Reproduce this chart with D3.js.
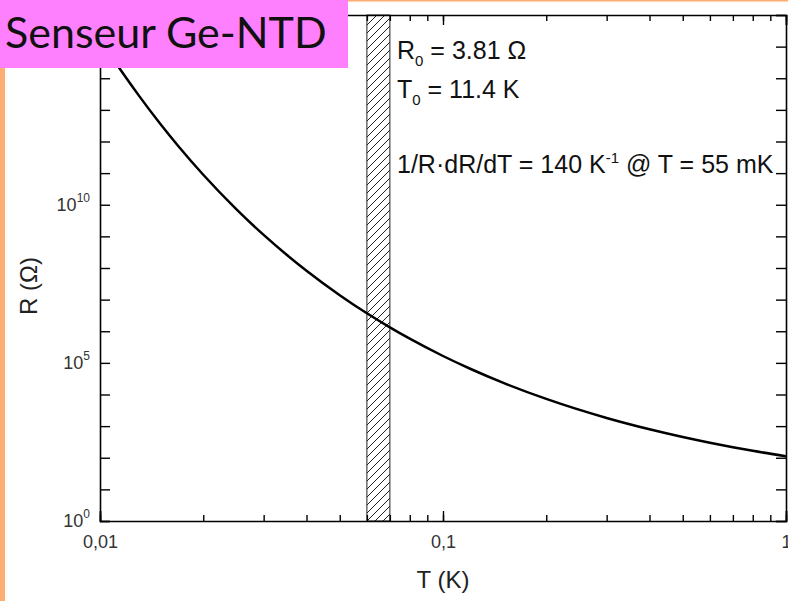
<!DOCTYPE html>
<html>
<head>
<meta charset="utf-8">
<script src="https://cdn.jsdelivr.net/npm/d3@7"></script>
<style>
  body { margin: 0; background: #fff; }
  svg { display: block; font-family: "Liberation Sans", Arial, sans-serif; }
</style>
</head>
<body>
<div id="chart"></div>
<script>
// curve: T (K) -> R (ohm)
const temps = [0.01, 0.011, 0.012, 0.013, 0.015, 0.017, 0.02, 0.025, 0.03, 0.035, 0.04, 0.05,
               0.06, 0.07, 0.08, 0.1, 0.12, 0.15, 0.2, 0.3, 0.4, 0.5, 0.6, 0.7, 0.8, 1.0];
const resist = [1.76e15, 3.65e14, 9.27e13, 2.77e13, 3.58e12, 6.73e11, 8.9e10, 7.16e9, 1.11e9, 2.62e8, 8.18e7, 1.38e7,
                3.69e6, 1.33e6, 5.82e5, 1.65e5, 6.52e4, 2.33e4, 7.24e3, 1.81e3, 794, 452, 298, 216, 166, 111];
const bandT = [0.06, 0.07];
const xMajor = [0.01, 0.1, 1];
const yDecades = d3.range(0, 17);
const yLabelled = [0, 5, 10];

const W = 788, H = 601;
const svg = d3.select("#chart").append("svg")
    .attr("width", W)
    .attr("height", H);

const x = d3.scaleLog().domain([0.01, 1]).range([100, 786]);
const y = d3.scaleLog().domain([1, 1e16]).range([521, 15]);

// hatch pattern for the band
const defs = svg.append("defs");
defs.append("pattern")
    .attr("id", "hatch")
    .attr("patternUnits", "userSpaceOnUse")
    .attr("width", 8)
    .attr("height", 8)
    .append("path")
    .attr("d", "M-1,1 l2,-2 M0,8 l8,-8 M7,9 l2,-2")
    .attr("stroke", "#222")
    .attr("stroke-width", 1);
defs.append("clipPath").attr("id", "plotclip")
    .append("rect")
    .attr("x", 100).attr("y", 15)
    .attr("width", 686).attr("height", 506);

// band
svg.append("rect")
    .attr("x", x(bandT[0]))
    .attr("y", y(1e16))
    .attr("width", x(bandT[1]) - x(bandT[0]))
    .attr("height", y(1) - y(1e16))
    .attr("fill", "url(#hatch)")
    .attr("stroke", "#222")
    .attr("stroke-width", 1);

// curve
const pts = temps.map((t, i) => [t, resist[i]]);
const line = d3.line()
    .x(d => x(d[0]))
    .y(d => y(d[1]))
    .curve(d3.curveMonotoneX);
svg.append("path")
    .datum(pts)
    .attr("clip-path", "url(#plotclip)")
    .attr("d", line)
    .attr("fill", "none")
    .attr("stroke", "#000")
    .attr("stroke-width", 2.5);

const fmtT = d => String(d).replace(".", ",");

// bottom axis: minor then major
svg.append("g")
    .attr("transform", "translate(0,521)")
    .call(d3.axisBottom(x).ticks(10).tickSize(-6).tickFormat(""))
    .call(g => g.select(".domain").remove());
const xb = svg.append("g")
    .attr("transform", "translate(0,521)")
    .call(d3.axisBottom(x).tickValues(xMajor).tickSize(-10).tickPadding(14).tickFormat(fmtT));
xb.selectAll("text").attr("font-size", 18).attr("fill", "#333")
    .attr("font-family", "Liberation Sans, Arial, sans-serif");

// top axis
svg.append("g")
    .attr("transform", "translate(0,15)")
    .call(d3.axisTop(x).ticks(10).tickSize(-6).tickFormat(""))
    .call(g => g.select(".domain").remove());
svg.append("g")
    .attr("transform", "translate(0,15)")
    .call(d3.axisTop(x).tickValues(xMajor).tickSize(-10).tickFormat(""));

// left axis
const yl = svg.append("g")
    .attr("transform", "translate(100,0)")
    .call(d3.axisLeft(y).tickValues(yDecades.map(e => Math.pow(10, e))).tickSize(-10).tickPadding(10)
        .tickFormat(d => ""));
yl.selectAll(".tick text").each(function(d) {
    const e = Math.round(Math.log10(d));
    if (!yLabelled.includes(e)) return;
    const t = d3.select(this).attr("font-size", 18).attr("fill", "#333")
        .attr("font-family", "Liberation Sans, Arial, sans-serif");
    t.append("tspan").text("10");
    t.append("tspan").attr("font-size", 12).attr("dy", "-0.75em").text(e);
});

// right axis
svg.append("g")
    .attr("transform", "translate(786,0)")
    .call(d3.axisRight(y).tickValues(yDecades.map(e => Math.pow(10, e))).tickSize(-10).tickFormat(""));

svg.selectAll(".domain").attr("stroke-width", 1.6);
svg.selectAll(".tick line").attr("stroke-width", 1.4);

// axis titles
svg.append("text")
    .attr("x", 443).attr("y", 588)
    .attr("text-anchor", "middle")
    .attr("font-size", 24).attr("fill", "#222")
    .text("T (K)");
svg.append("text")
    .attr("transform", "translate(37,286) rotate(-90)")
    .attr("text-anchor", "middle")
    .attr("font-size", 24).attr("fill", "#222")
    .text("R (Ω)");

// annotations
const ann = svg.append("g").attr("font-size", 25).attr("fill", "#111");
const a1 = ann.append("text").attr("x", 397).attr("y", 59);
a1.append("tspan").text("R");
a1.append("tspan").attr("font-size", 15).attr("dy", 7).text("0");
a1.append("tspan").attr("dy", -7).text(" = 3.81 Ω");
const a2 = ann.append("text").attr("x", 397).attr("y", 98);
a2.append("tspan").text("T");
a2.append("tspan").attr("font-size", 15).attr("dy", 7).text("0");
a2.append("tspan").attr("dy", -7).text(" = 11.4 K");
const a3 = ann.append("text").attr("x", 397).attr("y", 173);
a3.append("tspan").text("1/R·dR/dT = 140 K");
a3.append("tspan").attr("font-size", 15).attr("dy", -10).text("-1");
a3.append("tspan").attr("dy", 10).text(" @ T = 55 mK");

// slide decorations
svg.append("rect").attr("x", 0).attr("y", 0).attr("width", W).attr("height", 1.5).attr("fill", "#ffae73");
svg.append("rect").attr("x", 0).attr("y", 0).attr("width", 5).attr("height", H).attr("fill", "#ffae73");
svg.append("rect").attr("x", 0).attr("y", 0).attr("width", 348).attr("height", 68).attr("fill", "#ff80ff");
svg.append("text")
    .attr("x", 5).attr("y", 48)
    .style("font-family", "Lato, 'Open Sans', sans-serif")
    .attr("font-size", 43)
    .attr("fill", "#111")
    .text("Senseur Ge-NTD");
</script>
</body>
</html>
